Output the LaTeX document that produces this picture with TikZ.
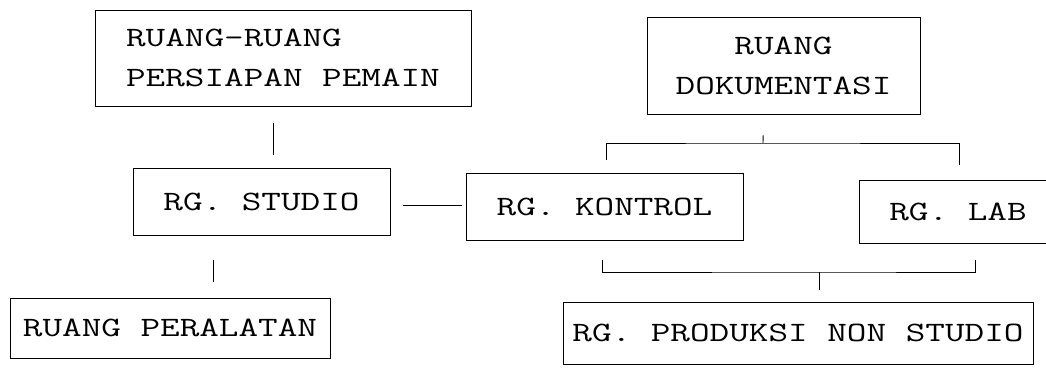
\documentclass[tikz,border=0pt]{standalone}
\usepackage{fontspec}
\newfontfamily\dotfont{Latin Modern Mono}[FakeStretch=1.36]
\usetikzlibrary{positioning}

\begin{document}
\begin{tikzpicture}[x=1pt, y=-1pt,
    room/.style={draw, line width=0.9pt, rectangle, inner sep=0pt, font=\dotfont\fontsize{28}{40}\selectfont},
    link/.style={line width=0.9pt}]
    \useasboundingbox (0,0) rectangle (1046,370);

    % Rooms
    \node[room, minimum width=376pt, minimum height=96pt, align=left] (persiapan) at (283,58) {RUANG-RUANG\\PERSIAPAN PEMAIN};
    \node[room, minimum width=257pt, minimum height=67pt] (studio) at (261.5,201.5) {RG. STUDIO};
    \node[room, minimum width=320pt, minimum height=60pt] (peralatan) at (170,328) {RUANG PERALATAN};
    \node[room, minimum width=273pt, minimum height=97pt, align=center] (dokumentasi) at (783.5,65.5) {RUANG\\DOKUMENTASI};
    \node[room, minimum width=277pt, minimum height=67pt] (kontrol) at (604.5,206.5) {RG. KONTROL};
    \node[room, minimum width=198pt, minimum height=63pt] (lab) at (958,211.5) {RG. LAB};
    \node[room, minimum width=470pt, minimum height=62pt] (produksi) at (798,333) {RG. PRODUKSI NON STUDIO};

    % Studio links
    \draw[link, shorten <=17pt, shorten >=13pt] ([xshift=-10pt]persiapan.south) -- ([xshift=-10pt]persiapan.south |- studio.north);
    \draw[link, shorten <=25pt, shorten >=16pt] ([xshift=-48pt]studio.south) -- ([xshift=-48pt]studio.south |- peralatan.north);
    \draw[link, shorten <=13pt, shorten >=4pt] ([yshift=-3.5pt]studio.east) -- ([yshift=-3.5pt]studio.east -| kontrol.west);

    % Brackets
    \coordinate (top fork) at (763,143);
    \coordinate (bottom fork) at (819,272);
    \draw[link, shorten <=21pt] ([xshift=-20pt]dokumentasi.south) -- (top fork);
    \draw[link] ([xshift=2pt,yshift=13pt]kontrol.north) |- (top fork) -| ([xshift=1pt,yshift=15pt]lab.north);
    \draw[link] ([xshift=-2pt,yshift=-20pt]kontrol.south) |- (bottom fork) -| ([xshift=17pt,yshift=-17pt]lab.south);
    \draw[link, shorten >=12pt] (bottom fork) -- (bottom fork |- produksi.north);
\end{tikzpicture}
\end{document}
